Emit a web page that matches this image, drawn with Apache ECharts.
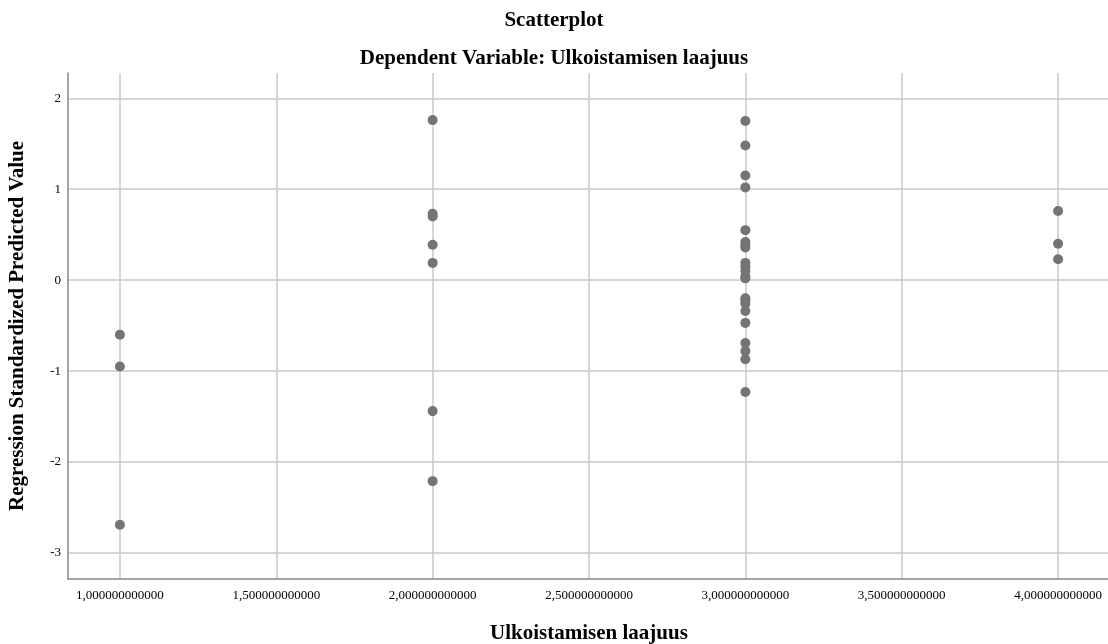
<!DOCTYPE html>
<html>
<head>
<meta charset="utf-8">
<script src="https://cdn.jsdelivr.net/npm/echarts@6/dist/echarts.min.js"></script>
<style>html,body{margin:0;padding:0;background:#fff;}#c{width:1108px;height:644px;}</style>
</head>
<body>
<div id="c"></div>
<script>
const title = 'Scatterplot';
const subtitle = 'Dependent Variable: Ulkoistamisen laajuus';
const xName = 'Ulkoistamisen laajuus';
const yName = 'Regression Standardized Predicted Value';
const xTicks = [1, 1.5, 2, 2.5, 3, 3.5, 4];
const yTicks = [-3, -2, -1, 0, 1, 2];
const xValues = [
  1, 1, 1,
  2, 2, 2, 2, 2, 2, 2,
  3, 3, 3, 3, 3, 3, 3, 3, 3, 3, 3, 3, 3, 3, 3, 3, 3, 3, 3, 3, 3, 3,
  4, 4, 4
];
const yValues = [
  -0.60, -0.95, -2.69,
  1.76, 0.73, 0.70, 0.39, 0.19, -1.44, -2.21,
  1.75, 1.48, 1.15, 1.02, 0.55, 0.42, 0.39, 0.36, 0.19, 0.15, 0.10, 0.04, 0.02, -0.20, -0.23, -0.26, -0.34, -0.47, -0.69, -0.78, -0.87, -1.23,
  0.76, 0.40, 0.23
];
const points = xValues.map((x, i) => [x, yValues[i]]);
const serif = '"Liberation Serif", "DejaVu Serif", serif';
const chart = echarts.init(document.getElementById('c'), null, {renderer: 'canvas'});
chart.setOption({
  animation: false,
  backgroundColor: '#ffffff',
  title: [
    {text: title, left: 'center', top: 5, textStyle: {fontFamily: serif, fontSize: 21, fontWeight: 'bold', color: '#000'}},
    {text: subtitle, left: 'center', top: 43, textStyle: {fontFamily: serif, fontSize: 21, fontWeight: 'bold', color: '#000'}}
  ],
  grid: {left: 68, right: -2, top: 73, bottom: 65, containLabel: false, outerBoundsMode: 'none'},
  xAxis: {
    type: 'value', min: 0.834, max: 4.166,
    name: xName, nameLocation: 'middle', nameGap: 44,
    nameTextStyle: {fontFamily: serif, fontSize: 21, fontWeight: 'bold', color: '#000'},
    axisLine: {show: true, onZero: false, lineStyle: {color: '#888', width: 1.5}},
    axisTick: {show: false, customValues: xTicks},
    axisLabel: {customValues: xTicks, fontFamily: serif, fontSize: 13, color: '#000', margin: 10,
      formatter: v => v.toFixed(12).replace('.', ',')},
    splitLine: {show: true, lineStyle: {color: '#c8c8c8', width: 1.5}}
  },
  yAxis: {
    type: 'value', min: -3.286, max: 2.278,
    name: yName, nameLocation: 'middle', nameGap: 40,
    nameTextStyle: {fontFamily: serif, fontSize: 21, fontWeight: 'bold', color: '#000'},
    axisLine: {show: true, onZero: false, lineStyle: {color: '#888', width: 1.5}},
    axisTick: {show: false, customValues: yTicks},
    axisLabel: {customValues: yTicks, fontFamily: serif, fontSize: 13, color: '#000', margin: 7},
    splitLine: {show: true, lineStyle: {color: '#c8c8c8', width: 1.5}}
  },
  series: [{
    type: 'scatter', data: points, symbol: 'circle', symbolSize: 10,
    itemStyle: {color: '#747474', opacity: 1}
  }]
});
</script>
</body>
</html>
